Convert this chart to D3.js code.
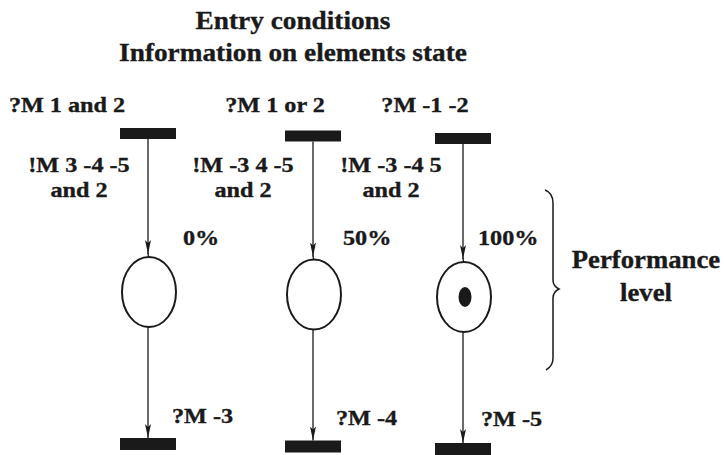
<!DOCTYPE html>
<html>
<head>
<meta charset="utf-8">
<script src="https://cdn.jsdelivr.net/npm/d3@7"></script>
<style>
  body { margin: 0; background: #fff; }
  text { font-family: "Liberation Serif", "Times New Roman", serif; font-weight: bold; fill: #1a1a1a; stroke: #1a1a1a; stroke-width: 0.35px; }
</style>
</head>
<body>
<div id="canvas"></div>
<script>
// places (one per column)
const columns = ["A", "B", "C"];
const entryLabels = ["?M 1 and 2", "?M 1 or 2", "?M -1 -2"];
const infoLabels = [["!M 3 -4 -5", "and 2"], ["!M -3 4 -5", "and 2"], ["!M -3 -4 5", "and 2"]];
const performance = ["0%", "50%", "100%"];
const tokens = [0, 0, 1];
const exitLabels = ["?M -3", "?M -4", "?M -5"];
const titleLines = ["Entry conditions", "Information on elements state"];
const sideLabel = ["Performance", "level"];

const width = 725;
const height = 455;
const ink = "#1a1a1a";

const svg = d3.select("#canvas").append("svg")
  .attr("width", width)
  .attr("height", height);

const data = columns.map((c, i) => ({
  col: c,
  entry: entryLabels[i],
  info: infoLabels[i],
  perf: performance[i],
  token: tokens[i],
  exit: exitLabels[i],
}));

const x = d3.scaleOrdinal().domain(columns).range([148, 313, 463]);
const skew = d3.scaleOrdinal().domain(columns).range([0, 2.5, 5]);

// the scan is a bit stretched sideways, so texts get a small x scale
function label(g, str, px, py, size, sx, anchor) {
  g.append("text")
    .attr("transform", `translate(${px},${py}) scale(${sx},1)`)
    .attr("text-anchor", anchor || "middle")
    .style("font-size", size + "px")
    .text(str);
}

svg.append("defs").append("marker")
  .attr("id", "arrow")
  .attr("viewBox", "0 0 14 6")
  .attr("refX", 14)
  .attr("refY", 3)
  .attr("markerWidth", 14)
  .attr("markerHeight", 6)
  .attr("markerUnits", "userSpaceOnUse")
  .attr("orient", "auto")
  .append("path")
  .attr("d", "M0,0 L14,3 L0,6 L3,3 Z")
  .attr("fill", ink);

// title
titleLines.forEach((t, i) => label(svg, t, 293, 29 + i * 32, 26, 1.05));

const barW = 56, barH = 11;
const placeY = 292, rx = 27, ry = 35;
const topBar = 128, botBar = 438;

const cols = svg.selectAll("g.col").data(data).enter()
  .append("g").attr("class", "col");

cols.each(function (d) {
  const g = d3.select(this);
  const cx = x(d.col);
  const dy = skew(d.col);

  // entry transition
  g.append("rect")
    .attr("x", cx - barW / 2).attr("y", topBar + dy)
    .attr("width", barW).attr("height", barH)
    .attr("fill", ink);

  // arc to place
  g.append("line")
    .attr("x1", cx).attr("y1", topBar + dy + barH)
    .attr("x2", cx).attr("y2", placeY + dy - ry - 3)
    .attr("stroke", ink).attr("stroke-width", 1.3)
    .attr("marker-end", "url(#arrow)");
  g.append("line")
    .attr("x1", cx).attr("y1", placeY + dy - ry - 4)
    .attr("x2", cx + 0.5).attr("y2", placeY + dy - ry)
    .attr("stroke", ink).attr("stroke-width", 1.3);

  // place
  g.append("ellipse")
    .attr("cx", cx + 1).attr("cy", placeY + dy)
    .attr("rx", rx).attr("ry", ry)
    .attr("fill", "none").attr("stroke", ink).attr("stroke-width", 2);

  if (d.token) {
    g.append("ellipse")
      .attr("cx", cx + 2).attr("cy", placeY + dy)
      .attr("rx", 6.5).attr("ry", 10)
      .attr("fill", ink);
  }

  // arc to exit transition
  g.append("line")
    .attr("x1", cx).attr("y1", placeY + dy + ry)
    .attr("x2", cx).attr("y2", botBar + dy)
    .attr("stroke", ink).attr("stroke-width", 1.3)
    .attr("marker-end", "url(#arrow)");

  g.append("rect")
    .attr("x", cx - barW / 2).attr("y", botBar + dy)
    .attr("width", barW).attr("height", barH + 1)
    .attr("fill", ink);
});

// texts beside each column
const entryX = [67, 275, 425];
const infoX = [79, 243, 391];
data.forEach((d, i) => {
  label(svg, d.entry, entryX[i], 112, 22, 1.1);
  label(svg, d.info[0], infoX[i], 172, 22, 1.1);
  label(svg, d.info[1], infoX[i], 197, 22, 1.1);
  label(svg, d.perf, x(d.col) + [35, 30, 15][i], 245, 22, 1.1, "start");
  label(svg, d.exit, x(d.col) + [24, 23, 18][i], 423 + i * 1.5, 22, 1.1, "start");
});

// brace for performance level
svg.append("path")
  .attr("d", "M545,190 Q553,193 553,203 L553,280 Q553,286 559,289 Q553,292 553,298 L553,358 Q553,366 546,370")
  .attr("fill", "none").attr("stroke", ink).attr("stroke-width", 1.5);

sideLabel.forEach((t, i) => label(svg, t, 646, 268 + i * 33, 25, 1.07));
</script>
</body>
</html>
